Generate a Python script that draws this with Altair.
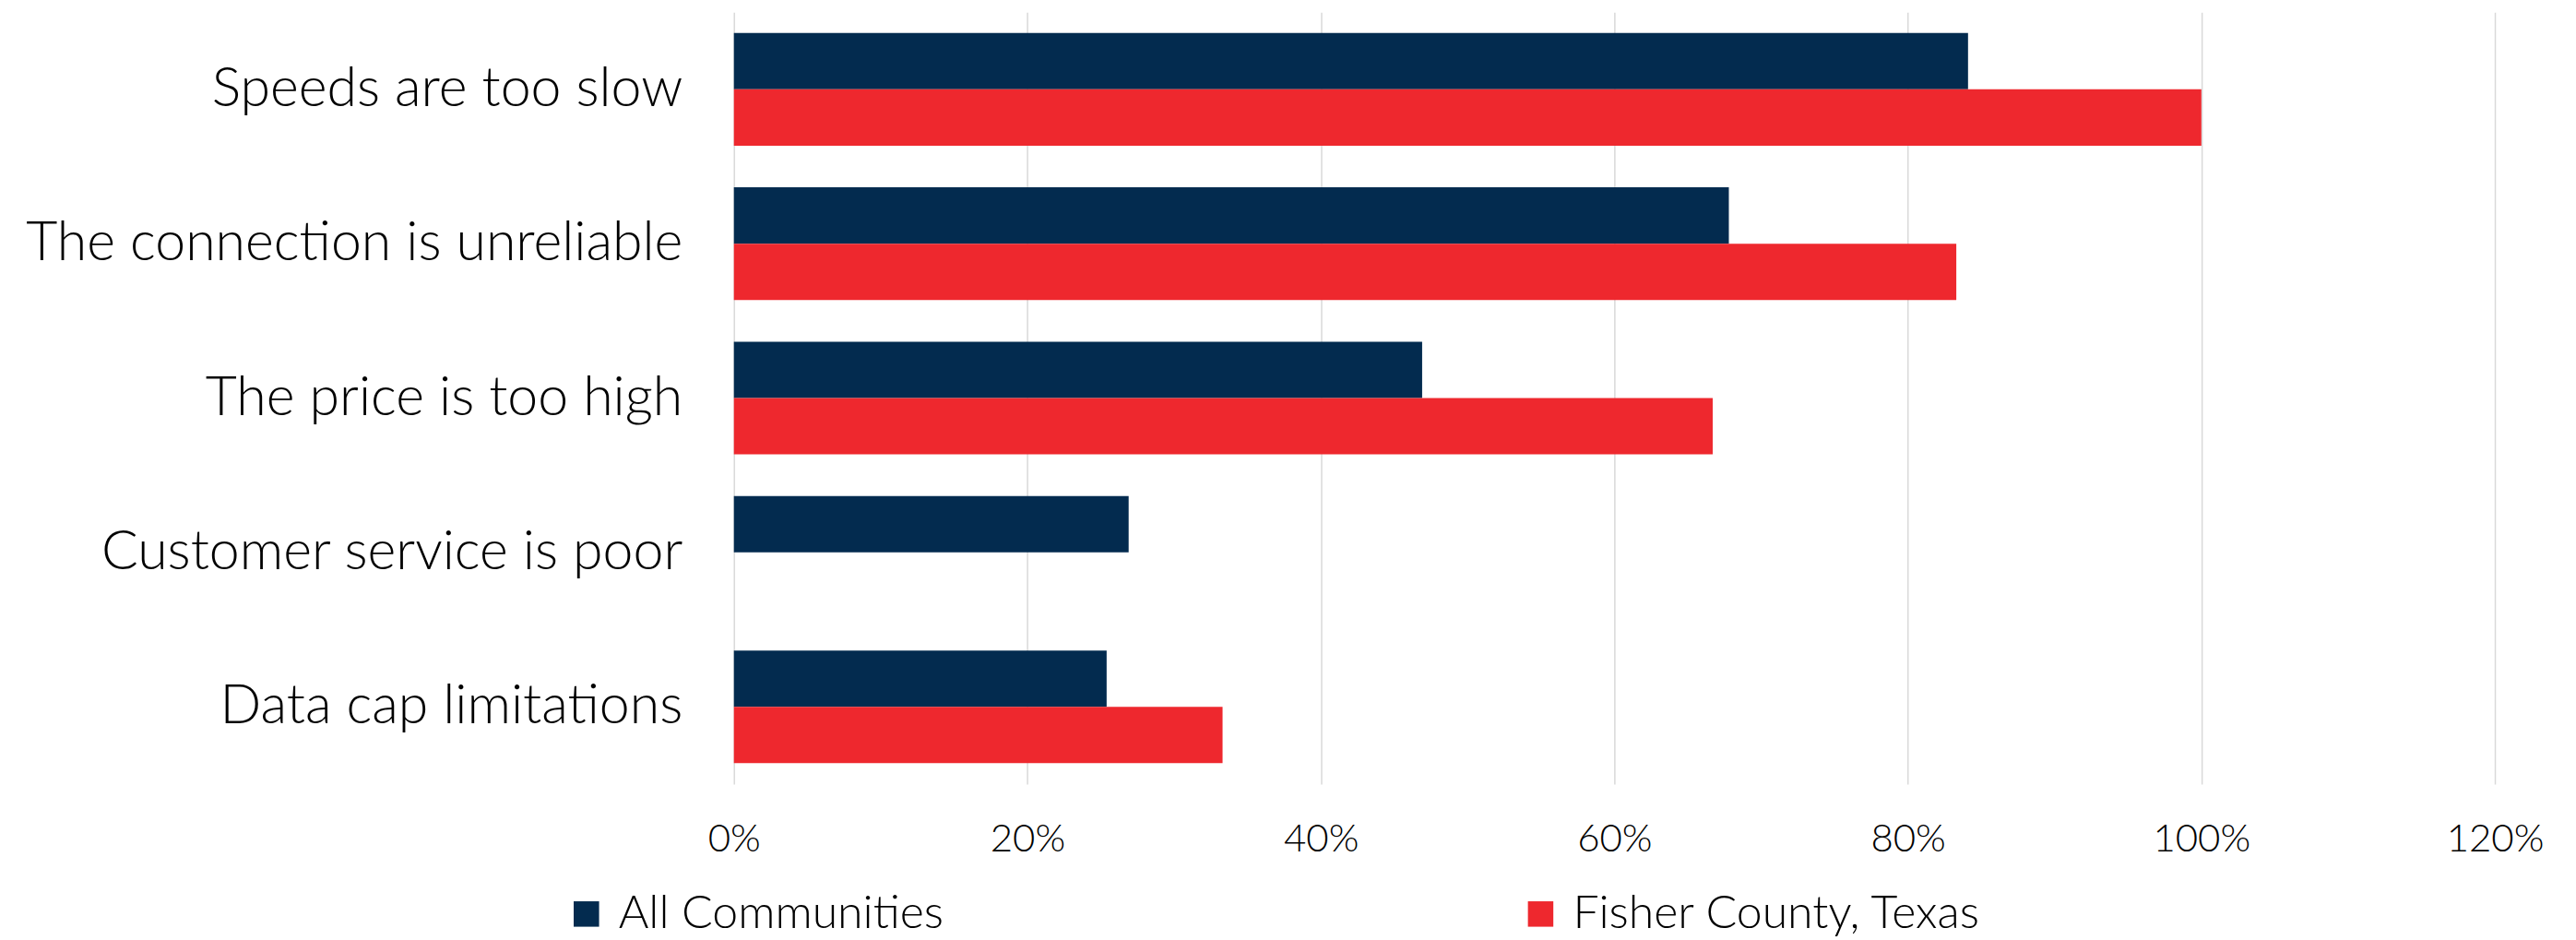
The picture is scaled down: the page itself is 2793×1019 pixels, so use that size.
import altair as alt
import pandas as pd

categories = ["Speeds are too slow", "The connection is unreliable", "The price is too high",
              "Customer service is poor", "Data cap limitations"]
series = ["All Communities", "Fisher County, Texas"]
all_communities = [0.841, 0.678, 0.469, 0.269, 0.254]
fisher_county = [1.0, 0.833, 0.667, 0.0, 0.333]
x_ticks = [0, 0.2, 0.4, 0.6, 0.8, 1.0, 1.2]

rows = []
for c, a, f in zip(categories, all_communities, fisher_county):
    rows.append({"category": c, "series": series[0], "value": a})
    rows.append({"category": c, "series": series[1], "value": f})
df = pd.DataFrame(rows)

FONT = "Lato"

chart = alt.Chart(df).mark_bar().encode(
    y=alt.Y("category:N", sort=categories, title=None,
            scale=alt.Scale(paddingInner=0.27, paddingOuter=0.135),
            axis=alt.Axis(domain=False, ticks=False, labelFontSize=59, labelFont=FONT,
                          labelFontWeight=300, labelColor="#000000", labelPadding=56,
                          labelLimit=1000)),
    yOffset=alt.YOffset("series:N", sort=series),
    x=alt.X("value:Q", title=None,
            scale=alt.Scale(domain=[0, 1.2], nice=False),
            axis=alt.Axis(values=x_ticks, format=".0%", domain=False, ticks=False,
                          grid=True, gridColor="#d9d9d9", gridWidth=1.5,
                          labelFontSize=42, labelFont=FONT, labelFontWeight=300,
                          labelColor="#000000", labelPadding=40,
                          labelAlign="center", labelFlush=False)),
    color=alt.Color("series:N", sort=series,
                    scale=alt.Scale(domain=series, range=["#032B4F", "#EE282E"]),
                    legend=alt.Legend(title=None, orient="none", direction="horizontal",
                                      legendX=-185, legendY=953,
                                      symbolType="square", symbolSize=760,
                                      symbolStrokeWidth=0, labelFontSize=50,
                                      labelFont=FONT, labelFontWeight=300,
                                      labelColor="#000000", columnPadding=622,
                                      labelOffset=10, labelLimit=1000)),
).properties(
    width=1910, height=837,
    background="#ffffff",
    autosize=alt.AutoSizeParams(type="none"),
    padding={"left": 788, "top": 5, "right": 80, "bottom": 166},
).configure_view(strokeWidth=0, stroke="transparent")

chart.save("out.html", embed_options={"renderer": "svg", "actions": False})
